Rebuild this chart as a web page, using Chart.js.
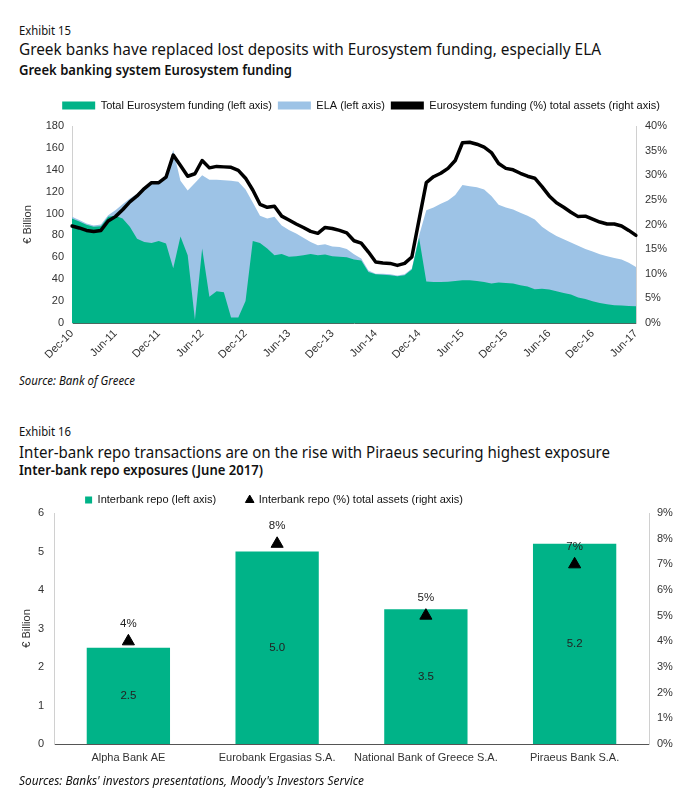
<!DOCTYPE html>
<html><head><meta charset="utf-8">
<script src="https://cdn.jsdelivr.net/npm/chart.js@4.4.0/dist/chart.umd.min.js"></script>
<style>
body{margin:0;width:700px;height:812px;background:#fff;position:relative;overflow:hidden;font-family:"Noto Sans",sans-serif;color:#111}
.t{position:absolute;left:19px;white-space:nowrap;transform-origin:0 50%;line-height:1}
.ex{font-size:12px}
.ti{font-size:17px}
.st{font-size:14px;font-weight:600}
.src{font-size:12px;font-style:italic}
.box{position:absolute;left:0;width:700px}
</style></head>
<body>
<div class="t ex" data-w="52" style="top:25px">Exhibit 15</div>
<div class="t ti" data-w="582" style="top:40px">Greek banks have replaced lost deposits with Eurosystem funding, especially ELA</div>
<div class="t st" data-w="273" style="top:63px">Greek banking system Eurosystem funding</div>
<div class="box" style="top:90px;height:280px"><canvas id="c1"></canvas></div>
<div class="t src" data-w="116" style="top:375px">Source: Bank of Greece</div>

<div class="t ex" data-w="52" style="top:426px">Exhibit 16</div>
<div class="t ti" data-w="591" style="top:443px">Inter-bank repo transactions are on the rise with Piraeus securing highest exposure</div>
<div class="t st" data-w="244" style="top:463px">Inter-bank repo exposures (June 2017)</div>
<div class="box" style="top:462px;height:313px"><canvas id="c2"></canvas></div>
<div class="t src" data-w="345" style="top:775px">Sources: Banks' investors presentations, Moody's Investors Service</div>

<script>
// ---------- Exhibit 15 data ----------
const months = ['Dec-10',
 'Jan-11','Feb-11','Mar-11','Apr-11','May-11','Jun-11','Jul-11','Aug-11','Sep-11','Oct-11','Nov-11','Dec-11',
 'Jan-12','Feb-12','Mar-12','Apr-12','May-12','Jun-12','Jul-12','Aug-12','Sep-12','Oct-12','Nov-12','Dec-12',
 'Jan-13','Feb-13','Mar-13','Apr-13','May-13','Jun-13','Jul-13','Aug-13','Sep-13','Oct-13','Nov-13','Dec-13',
 'Jan-14','Feb-14','Mar-14','Apr-14','May-14','Jun-14','Jul-14','Aug-14','Sep-14','Oct-14','Nov-14','Dec-14',
 'Jan-15','Feb-15','Mar-15','Apr-15','May-15','Jun-15','Jul-15','Aug-15','Sep-15','Oct-15','Nov-15','Dec-15',
 'Jan-16','Feb-16','Mar-16','Apr-16','May-16','Jun-16','Jul-16','Aug-16','Sep-16','Oct-16','Nov-16','Dec-16',
 'Jan-17','Feb-17','Mar-17','Apr-17','May-17','Jun-17'];
const tickLabels = ['Dec-10','Jun-11','Dec-11','Jun-12','Dec-12','Jun-13','Dec-13','Jun-14','Dec-14','Jun-15','Dec-15','Jun-16','Dec-16','Jun-17'];
// green area (EUR bn)
const eurosystemFunding = [95.5,92.7,89.7,88,88.5,97,98,95.5,88,77,
 74,73,75,72.6,50,79,62,3,68,24,
 29,28,5,5,20,75,73,68,62,63,
 60.5,61,62,63,62,62.5,61,60.5,60,58,
 57,46.7,44.5,44.2,43.6,42.7,43.6,48.8,78,38,
 37.5,37.5,37.8,38.4,39,39,38.4,37.5,36,37,
 36.6,36,34.5,33.3,30.8,31.4,30.5,29,27.5,26,
 23.2,22,19.8,18.3,17.1,16.2,15.9,15.6,15.3];
// top of the light-blue ELA area (EUR bn)
const elaTop = [97,94,91,89,90,98.5,103,108.6,113.8,118,
 124.5,129,129,135,158,130,121,128,135,131,
 131,130.5,130,129,122,110,98,95.5,97,89,
 85,81.8,78,74,71,72,70,69.5,67.7,62.8,
 59,48,45,45,44.5,43.3,44.5,49.7,80,103,
 105.5,109,112,117,126,125,124,122,116,108,
 105.5,103.7,100.7,98,94.6,87.9,83.3,79.6,76.6,73.5,
 70.5,67.7,65.3,62.8,61,59.5,58,55,51.2];
// black line (% of total assets)
const fundingPctAssets = [19.7,19.3,18.8,18.6,18.8,20.7,21.6,23,24.6,25.8,
 27.3,28.5,28.5,29.6,34.1,32,29.8,30.3,33,31.5,
 31.8,31.7,31.6,31,29.4,27,24.1,23.5,23.7,21.7,
 20.9,20.1,19.4,18.6,18.2,19.4,19.2,18.8,18.3,16.7,
 16.2,14.4,12.4,12.2,12.1,11.7,12.1,13.4,21,28.5,
 29.7,30.4,31.4,33,36.6,36.7,36.3,35.7,34.6,32.4,
 31.4,31.1,30.4,29.8,29.4,27.7,25.8,24.4,23.5,22.5,
 21.6,21.7,21.1,20.5,20.1,20.1,19.7,18.8,17.8];

// ---------- Exhibit 16 data ----------
const banks = ['Alpha Bank AE','Eurobank Ergasias S.A.','National Bank of Greece S.A.','Piraeus Bank S.A.'];
const repoBn = [2.5, 5.0, 3.5, 5.2];
const repoPctAssets = [4.0, 7.8, 5.0, 7.0];

const GREEN = '#00B388', BLUE = '#9DC3E6', TXT = '#333';
const FONT = {family:'"Liberation Sans", Arial, sans-serif', size:11};

const legendShift = {
  id:'legendShift',
  afterLayout(chart, args, opts){
    const l = chart.legend; if(!l) return;
    l.left += opts.dx||0; l.right += opts.dx||0;
    l.top += opts.dy||0; l.bottom += opts.dy||0;
  }
};

Chart.defaults.font.family = FONT.family;
Chart.defaults.color = TXT;

const c1 = new Chart(document.getElementById('c1'), {
  type:'line',
  data:{labels:months, datasets:[
    {label:'Total Eurosystem funding (left axis)', data:eurosystemFunding, yAxisID:'y',
     backgroundColor:GREEN, borderColor:GREEN, borderWidth:0, fill:'origin', pointRadius:0, tension:0, order:1},
    {label:'ELA (left axis)', data:elaTop, yAxisID:'y',
     backgroundColor:BLUE, borderColor:BLUE, borderWidth:0, fill:'origin', pointRadius:0, tension:0, order:2},
    {label:'Eurosystem funding (%) total assets (right axis)', data:fundingPctAssets, yAxisID:'y1',
     backgroundColor:'#000', borderColor:'#000', borderWidth:3.5, fill:false, pointRadius:0, tension:0, order:0,
     borderJoinStyle:'round', borderCapStyle:'round'}
  ]},
  options:{
    responsive:true, maintainAspectRatio:false, animation:false,
    layout:{padding:{top:9,left:0,right:0,bottom:0}},
    plugins:{
      tooltip:{enabled:false},
      legend:{position:'top', align:'center',
        labels:{font:{size:11}, color:'#111', boxWidth:33, boxHeight:8, padding:6,
          sort:(a,b)=>a.datasetIndex-b.datasetIndex,
          generateLabels:(ch)=>Chart.defaults.plugins.legend.labels.generateLabels(ch).map(it=>Object.assign(it,{lineWidth:0}))}},
      legendShift:{dx:11, dy:-5}
    },
    scales:{
      x:{grid:{display:false, drawTicks:false}, border:{color:'#4a6a60', width:1},
         ticks:{autoSkip:false, maxRotation:45, minRotation:45, padding:4, font:FONT, color:TXT,
           callback:(v,i)=> tickLabels.includes(months[i]) ? months[i] : ''},
         afterFit:s=>{s.height=47;}},
      y:{position:'left', min:0, max:180, grid:{display:false, drawTicks:false}, border:{color:'#d0d0d0'},
         ticks:{stepSize:20, padding:8, font:FONT, color:TXT},
         title:{display:true, text:'€ Billion', font:FONT, color:TXT, padding:{top:21,bottom:0}},
         afterFit:s=>{s.width=72;}},
      y1:{position:'right', min:0, max:40, grid:{display:false, drawTicks:false}, border:{color:'#d0d0d0'},
         ticks:{stepSize:5, padding:9, font:FONT, color:TXT, callback:v=>v+'%'},
         afterFit:s=>{s.width=64;}}
    }
  },
  plugins:[legendShift]
});

const valueLabels = {
  id:'valueLabels',
  afterDatasetsDraw(chart){
    const ctx = chart.ctx; ctx.save();
    ctx.font = '11.5px "Liberation Sans", Arial, sans-serif';
    ctx.fillStyle = '#222'; ctx.textAlign='center'; ctx.textBaseline='middle';
    chart.getDatasetMeta(0).data.forEach((el,i)=>{ ctx.fillText(repoBn[i].toFixed(1), el.x, (el.y+el.base)/2); });
    chart.getDatasetMeta(1).data.forEach((el,i)=>{ ctx.fillText(Math.round(repoPctAssets[i])+'%', el.x, el.y-18); });
    ctx.restore();
  }
};

const c2 = new Chart(document.getElementById('c2'), {
  type:'bar',
  data:{labels:banks, datasets:[
    {type:'bar', label:'Interbank repo (left axis)', data:repoBn, yAxisID:'y', backgroundColor:GREEN,
     barPercentage:0.56, categoryPercentage:1, pointStyle:'rect', order:1},
    {type:'line', label:'Interbank repo (%) total assets (right axis)', data:repoPctAssets, yAxisID:'y1',
     showLine:false, pointStyle:'triangle', pointRadius:7, pointBackgroundColor:'#000', pointBorderColor:'#000',
     backgroundColor:'#000', borderColor:'#000', order:0}
  ]},
  options:{
    responsive:true, maintainAspectRatio:false, animation:false,
    layout:{padding:{top:0,left:0,right:0,bottom:0}},
    plugins:{
      tooltip:{enabled:false},
      legend:{position:'top', align:'center',
        labels:{font:{size:11}, color:'#111', usePointStyle:true, boxWidth:7, boxHeight:7, padding:30,
          sort:(a,b)=>a.datasetIndex-b.datasetIndex}},
      legendShift:{dx:-76, dy:2.5}
    },
    scales:{
      x:{grid:{display:false, drawTicks:false}, border:{color:'#555', width:1},
         ticks:{padding:7, font:FONT, color:TXT, maxRotation:0, minRotation:0, autoSkip:false},
         afterFit:s=>{s.height=31;}},
      y:{position:'left', min:0, max:6, grid:{display:false, drawTicks:false}, border:{color:'#d0d0d0'},
         ticks:{stepSize:1, padding:10, font:FONT, color:TXT},
         title:{display:true, text:'€ Billion', font:FONT, color:TXT, padding:{top:20,bottom:0}},
         afterFit:s=>{s.width=54;}},
      y1:{position:'right', min:0, max:9, grid:{display:false, drawTicks:false}, border:{color:'#d0d0d0'},
         ticks:{stepSize:1, padding:8, font:FONT, color:TXT, callback:v=>v+'%'},
         afterFit:s=>{s.width=51;}}
    }
  },
  plugins:[valueLabels, legendShift]
});

function fit(){
  document.querySelectorAll('.t[data-w]').forEach(el=>{
    el.style.transform='none';
    const w = el.getBoundingClientRect().width;
    el.style.transform = 'scaleX(' + (parseFloat(el.dataset.w)/w).toFixed(4) + ')';
  });
}
fit();
if (document.fonts && document.fonts.ready) document.fonts.ready.then(fit);
</script>
</body></html>
